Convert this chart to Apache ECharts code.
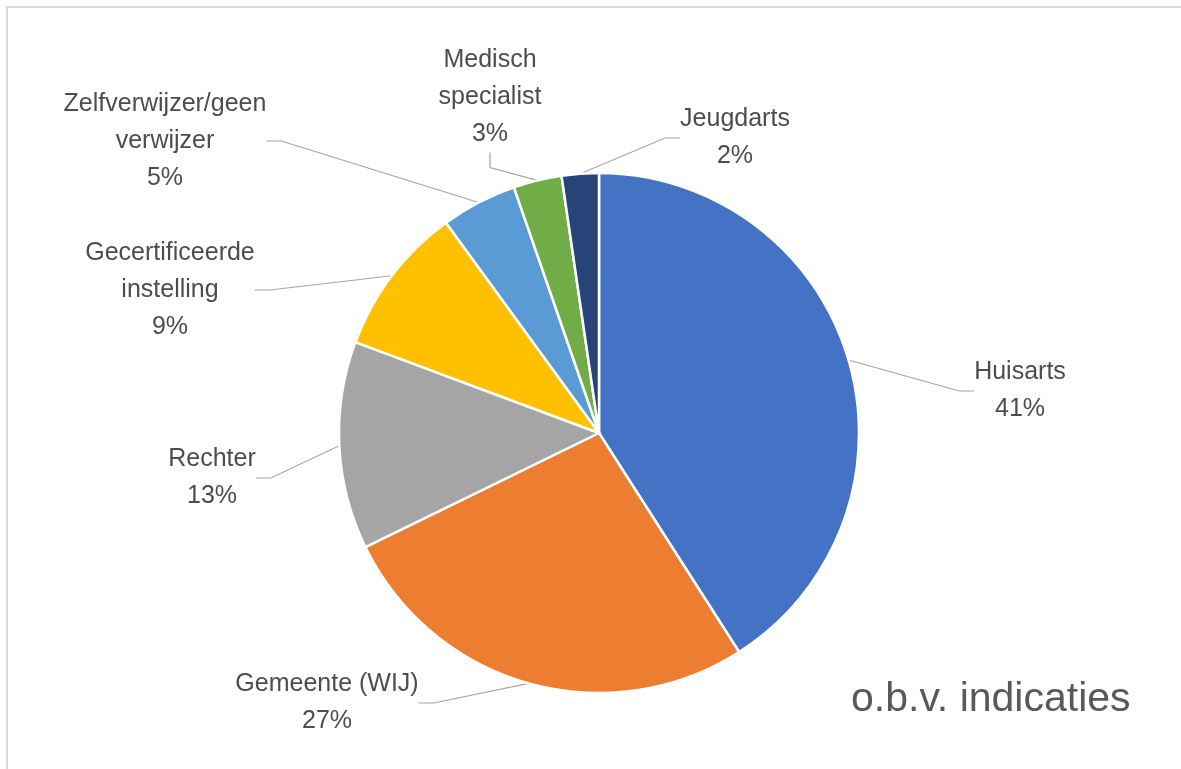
<!DOCTYPE html>
<html>
<head>
<meta charset="utf-8">
<script src="https://cdn.jsdelivr.net/npm/echarts@6/dist/echarts.min.js"></script>
<style>
  html, body { margin: 0; padding: 0; background: #ffffff; }
  #frame { position: absolute; left: 6px; top: 6px; width: 1200px; height: 800px; border-left: 2px solid #d9d9d9; border-top: 2px solid #d9d9d9; }
  #chart { position: absolute; left: 0; top: 0; width: 1181px; height: 769px; }
</style>
</head>
<body>
<div id="frame"></div>
<div id="chart"></div>
<script>
// Data
const categories = [
  'Huisarts',
  'Gemeente (WIJ)',
  'Rechter',
  'Gecertificeerde\ninstelling',
  'Zelfverwijzer/geen\nverwijzer',
  'Medisch\nspecialist',
  'Jeugdarts'
];
const shares = [40.9, 26.8, 12.9, 9.3, 4.7, 3.0, 2.3];
const sliceColors = ['#4472C4', '#ED7D31', '#A5A5A5', '#FFC000', '#5B9BD5', '#70AD47', '#264478'];
const chartTitle = 'o.b.v. indicaties';

// Layout: label block centres (pixel positions, layout only)
const labelCentres = [
  [1020, 391],
  [327, 703],
  [212, 478],
  [170, 290],
  [165, 141],
  [490, 97],
  [735, 138]
];

const chart = echarts.init(document.getElementById('chart'), null, { renderer: 'canvas' });
const data = categories.map((c, i) => ({ name: c, value: shares[i], itemStyle: { color: sliceColors[i] } }));

chart.setOption({
  animation: false,
  backgroundColor: 'transparent',
  title: {
    text: chartTitle,
    left: 851,
    top: 679,
    padding: 0,
    textStyle: { fontFamily: 'Liberation Sans', fontSize: 41, fontWeight: 'normal', color: '#595959' }
  },
  series: [{
    type: 'pie',
    center: [599, 433],
    radius: 260,
    startAngle: 90,
    clockwise: true,
    data: data,
    itemStyle: { borderColor: '#ffffff', borderWidth: 2.5 },
    label: {
      show: true,
      formatter: p => p.name + '\n' + Math.round(p.percent) + '%',
      fontFamily: 'Liberation Sans',
      fontSize: 25,
      lineHeight: 37,
      color: '#4d4d4d'
    },
    labelLine: {
      show: true,
      length: 15,
      length2: 15,
      lineStyle: { color: '#a6a6a6', width: 1.2 }
    },
    labelLayout: function (params) {
      const c = labelCentres[params.dataIndex];
      return { x: c[0], y: c[1], align: 'center', verticalAlign: 'middle' };
    }
  }]
});
</script>
</body>
</html>
